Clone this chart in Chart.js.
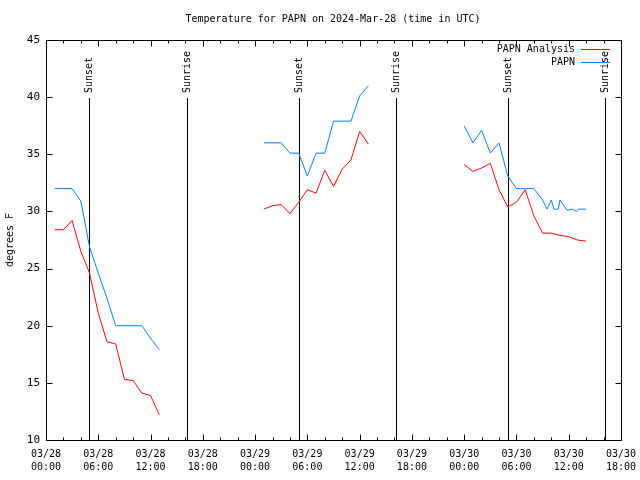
<!DOCTYPE html>
<html>
<head>
<meta charset="utf-8">
<title>Temperature for PAPN</title>
<script src="https://cdn.jsdelivr.net/npm/chart.js@4.4.1/dist/chart.umd.min.js"></script>
<style>
  html, body { margin: 0; padding: 0; background: #fff; }
  #wrap { width: 640px; height: 480px; }
</style>
</head>
<body>
<div id="wrap"><canvas id="tempChart" width="640" height="480"></canvas></div>
<script>
// hours since 03/28 00:00 UTC, null marks a gap in the record
const analysisHours = [1, 2, 3, 4, 5, 6, 7, 8, 9, 10, 11, 12, 13, 19,
    25, 26, 27, 28, 29, 30, 31, 32, 33, 34, 35, 36, 37, 42,
    48, 49, 50, 51, 52, 53, 54, 55, 56, 57, 58, 59, 60, 61, 62];
const analysisTemps = [28.4, 28.4, 29.2, 26.5, 24.6, 21.1, 18.6, 18.4, 15.3, 15.2, 14.1, 13.9, 12.2, null,
    30.2, 30.5, 30.6, 29.8, 30.8, 31.9, 31.6, 33.6, 32.2, 33.7, 34.5, 37.0, 35.9, null,
    34.1, 33.5, 33.8, 34.2, 31.9, 30.4, 30.8, 31.9, 29.6, 28.1, 28.1, 27.9, 27.8, 27.5, 27.4];

const obsHours = [1, 2, 3, 4, 5, 6, 7, 8, 9, 10, 11, 12, 13, 19,
    25, 26, 27, 28, 29, 30, 31, 32, 33, 34, 35, 36, 37, 42,
    48, 49, 50, 51, 52, 53, 54, 55, 56, 57, 57.5, 58, 58.3, 58.8, 59, 59.8, 60.4, 60.9, 61.1, 62];
const obsTemps = [32, 32, 32, 30.9, 26.9, 24.6, 22.4, 20, 20, 20, 20, 18.9, 17.9, null,
    36, 36, 36, 35.1, 35.1, 33.1, 35.1, 35.1, 37.9, 37.9, 37.9, 40.1, 41, null,
    37.5, 36, 37.1, 35.1, 36, 33.1, 32, 32, 32, 31, 30.2, 31, 30.2, 30.2, 31, 30.1, 30.2, 30, 30.2, 30.2];

const xTickLabels = [
    ['03/28', '00:00'], ['03/28', '06:00'], ['03/28', '12:00'], ['03/28', '18:00'],
    ['03/29', '00:00'], ['03/29', '06:00'], ['03/29', '12:00'], ['03/29', '18:00'],
    ['03/30', '00:00'], ['03/30', '06:00'], ['03/30', '12:00'], ['03/30', '18:00']
];

const sunHours = [4.93, 16.2, 29.0, 40.2, 53.03, 64.2];
const sunNames = ['Sunset', 'Sunrise', 'Sunset', 'Sunrise', 'Sunset', 'Sunrise'];

const seriesNames = ['PAPN Analysis', 'PAPN'];
const seriesColors = ['#ff0000', '#0080ff'];

const titleText = 'Temperature for PAPN on 2024-Mar-28 (time in UTC)';
const monoFont = '"DejaVu Sans Mono", "Liberation Mono", monospace';

function toPoints(hours, temps) {
    return hours.map((h, i) => ({ x: h, y: temps[i] }));
}

// gnuplot style frame, inward ticks, sun lines, legend and title
const gnuplotLook = {
    id: 'gnuplotLook',
    beforeDatasetsDraw(chart) {
        const { ctx, chartArea, scales } = chart;
        ctx.save();
        ctx.strokeStyle = '#000';
        ctx.fillStyle = '#000';
        ctx.lineWidth = 1;
        ctx.font = '10px ' + monoFont;
        sunHours.forEach((h, i) => {
            const x = Math.round(scales.x.getPixelForValue(h)) + 0.5;
            ctx.beginPath();
            ctx.moveTo(x, 98);
            ctx.lineTo(x, chartArea.bottom);
            ctx.stroke();
            ctx.save();
            ctx.translate(x, 93);
            ctx.rotate(-Math.PI / 2);
            ctx.textAlign = 'left';
            ctx.textBaseline = 'middle';
            ctx.fillText(sunNames[i], 0, 0);
            ctx.restore();
        });
        ctx.restore();
    },
    afterDraw(chart) {
        const { ctx, chartArea, scales } = chart;
        const l = chartArea.left + 0.5, r = chartArea.right + 0.5;
        const t = chartArea.top + 0.5, b = chartArea.bottom + 0.5;
        ctx.save();
        ctx.strokeStyle = '#000';
        ctx.fillStyle = '#000';
        ctx.lineWidth = 1;
        ctx.strokeRect(l, t, r - l, b - t);

        ctx.beginPath();
        for (let h = 0; h <= 66; h += 2) {
            const x = Math.round(scales.x.getPixelForValue(h)) + 0.5;
            const len = h % 6 === 0 ? 6 : 3;
            ctx.moveTo(x, b); ctx.lineTo(x, b - len);
            ctx.moveTo(x, t); ctx.lineTo(x, t + len);
        }
        for (let v = 10; v <= 45; v += 5) {
            const y = Math.round(scales.y.getPixelForValue(v)) + 0.5;
            ctx.moveTo(l, y); ctx.lineTo(l + 6, y);
            ctx.moveTo(r, y); ctx.lineTo(r - 6, y);
        }
        ctx.stroke();

        // legend
        ctx.font = '10px ' + monoFont;
        ctx.textAlign = 'right';
        ctx.textBaseline = 'middle';
        seriesNames.forEach((name, i) => {
            const y = 49.5 + i * 13;
            ctx.fillStyle = '#000';
            ctx.fillText(name, 575, y);
            ctx.strokeStyle = seriesColors[i];
            ctx.beginPath();
            ctx.moveTo(581, y);
            ctx.lineTo(610, y);
            ctx.stroke();
        });

        // title
        ctx.fillStyle = '#000';
        ctx.textAlign = 'center';
        ctx.fillText(titleText, 333, 19);
        ctx.restore();
    }
};

Chart.defaults.color = '#000';

new Chart(document.getElementById('tempChart'), {
    type: 'line',
    data: {
        datasets: [{
            label: seriesNames[0],
            data: toPoints(analysisHours, analysisTemps),
            borderColor: seriesColors[0],
            borderWidth: 1,
            pointRadius: 0,
            tension: 0,
            spanGaps: false
        }, {
            label: seriesNames[1],
            data: toPoints(obsHours, obsTemps),
            borderColor: seriesColors[1],
            borderWidth: 1,
            pointRadius: 0,
            tension: 0,
            spanGaps: false
        }]
    },
    options: {
        responsive: false,
        animation: false,
        layout: { padding: { top: 40, right: 19, left: 0, bottom: 0 } },
        plugins: {
            legend: { display: false },
            title: { display: false },
            tooltip: { enabled: false }
        },
        scales: {
            x: {
                type: 'linear',
                min: 0,
                max: 66,
                grid: { display: false, drawTicks: false },
                border: { display: false },
                ticks: {
                    stepSize: 6,
                    autoSkip: false,
                    maxRotation: 0,
                    padding: 8,
                    font: { family: monoFont, size: 10, lineHeight: 1.3 },
                    callback: (v) => xTickLabels[Math.round(v / 6)]
                },
                afterFit: (s) => {
                    s.height = 40;
                    s.paddingLeft = 0;
                    s.paddingRight = 0;
                }
            },
            y: {
                min: 10,
                max: 45,
                grid: { display: false, drawTicks: false },
                border: { display: false },
                ticks: {
                    stepSize: 5,
                    padding: 6,
                    font: { family: monoFont, size: 11 }
                },
                title: {
                    display: true,
                    text: 'degrees F',
                    padding: { top: 4, bottom: 0 },
                    font: { family: monoFont, size: 10 }
                },
                afterFit: (s) => {
                    s.width = 46;
                    s.paddingTop = 0;
                    s.paddingBottom = 0;
                }
            }
        }
    },
    plugins: [gnuplotLook]
});
</script>
</body>
</html>
